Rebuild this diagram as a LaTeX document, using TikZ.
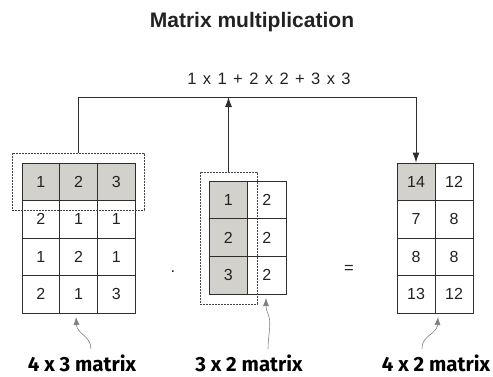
\documentclass[tikz,border=0pt]{standalone}
\usepackage{fontspec}
\setmainfont{Liberation Sans}
\newfontfamily\labfont{Fira Sans}
\newfontfamily\widefont[WordSpace=1.4]{Liberation Sans}
\usetikzlibrary{arrows.meta}
\definecolor{linec}{HTML}{2E2E2E}
\definecolor{grayc}{HTML}{D3D1CC}
\definecolor{txtc}{HTML}{222222}
\definecolor{dotc}{HTML}{444444}
\begin{document}
\begin{tikzpicture}[x=1pt,y=-1pt,
  cellA/.style={draw=linec, line width=0.9pt, minimum width=37.7pt, minimum height=37.5pt, inner sep=0pt, font=\fontsize{16}{16}\selectfont, text=txtc},
  cellB/.style={draw=linec, line width=0.9pt, minimum width=38.5pt, minimum height=37.7pt, inner sep=0pt, font=\fontsize{16}{16}\selectfont, text=txtc},
  cellC/.style={draw=linec, line width=0.9pt, minimum width=38pt, minimum height=37.5pt, inner sep=0pt, font=\fontsize{16}{16}\selectfont, text=txtc},
  hi/.style={fill=grayc},
  dotbox/.style={draw=dotc, dash pattern=on 1.6pt off 1.4pt, line width=1pt, inner sep=0pt},
  conn/.style={draw=linec, line width=0.9pt},
  arr/.style={conn, -{Latex[length=10pt,width=7pt]}},
  curv/.style={draw=gray, line width=0.6pt, -{Latex[length=8pt,width=6pt]}},
  lab/.style={font=\labfont\bfseries\fontsize{20.5}{20.5}\selectfont, anchor=base, inner sep=0pt, text=black},
  plain/.style={font=\fontsize{16.5}{16.5}\selectfont, anchor=base, inner sep=0pt, text=txtc}
]
\useasboundingbox (0,0) rectangle (493,376);

% title
\node[font=\bfseries\fontsize{21}{21}\selectfont, anchor=base, inner sep=0pt, text=txtc] (title) at (252,27) {Matrix multiplication};
\node[plain, font=\widefont\fontsize{16.5}{16.5}\selectfont] (formula) at (269,84) {1 x 1 + 2 x 2 + 3 x 3};

% left matrix 4x3
\node[cellA,hi] (A11) at (40.8,181.75) {1};
\node[cellA,hi] (A12) at (78.5,181.75) {2};
\node[cellA,hi] (A13) at (116.2,181.75) {3};
\node[cellA] (A21) at (40.8,219.25) {2};
\node[cellA] (A22) at (78.5,219.25) {1};
\node[cellA] (A23) at (116.2,219.25) {1};
\node[cellA] (A31) at (40.8,256.75) {1};
\node[cellA] (A32) at (78.5,256.75) {2};
\node[cellA] (A33) at (116.2,256.75) {1};
\node[cellA] (A41) at (40.8,294.25) {2};
\node[cellA] (A42) at (78.5,294.25) {1};
\node[cellA] (A43) at (116.2,294.25) {3};

% middle matrix 3x2
\node[cellB,hi] (B11) at (228.25,199.85) {1};
\node[cellB] (B12) at (266.75,199.85) {2};
\node[cellB,hi] (B21) at (228.25,237.55) {2};
\node[cellB] (B22) at (266.75,237.55) {2};
\node[cellB,hi] (B31) at (228.25,275.25) {3};
\node[cellB] (B32) at (266.75,275.25) {2};

% right matrix 4x2
\node[cellC,hi] (C11) at (416,181.75) {14};
\node[cellC] (C12) at (454,181.75) {12};
\node[cellC] (C21) at (416,219.25) {7};
\node[cellC] (C22) at (454,219.25) {8};
\node[cellC] (C31) at (416,256.75) {8};
\node[cellC] (C32) at (454,256.75) {8};
\node[cellC] (C41) at (416,294.25) {13};
\node[cellC] (C42) at (454,294.25) {12};

% dotted selections
\node[dotbox, minimum width=132pt, minimum height=57pt] (dotA) at (78,181.5) {};
\node[dotbox, minimum width=57pt, minimum height=132pt] (dotB) at (228.5,238) {};

% connectors
\coordinate (bar) at (0,97);
\draw[arr] (dotA.north) -- (dotA.north |- bar) -- (C11.north |- bar) -- (C11.north);
\draw[arr] (dotB.north) -- (dotB.north |- bar);

% operators
\node[plain] (dotop) at (173,272) {.};
\node[plain] (eqop) at (349,273) {=};

% labels
\node[lab] (labA) at (82,371.5) {4 x 3 matrix};
\node[lab] (labB) at (249,371.5) {3 x 2 matrix};
\node[lab] (labC) at (436,371.5) {4 x 2 matrix};

% curved pointers
\coordinate (tA) at (91,349);
\coordinate (tB) at (268,349);
\coordinate (tC) at (422,349);
\coordinate (hA) at (76,317);
\coordinate (hB) at (266,298);
\coordinate (hC) at (438,317);
\draw[curv] (tA) .. controls (91,336) and (77,334) .. (hA);
\draw[curv] (tB) .. controls (268,336) and (272,322) .. (268,314) .. controls (266,308) .. (hB);
\draw[curv] (tC) .. controls (421,336) and (437,334) .. (hC);
\end{tikzpicture}
\end{document}
